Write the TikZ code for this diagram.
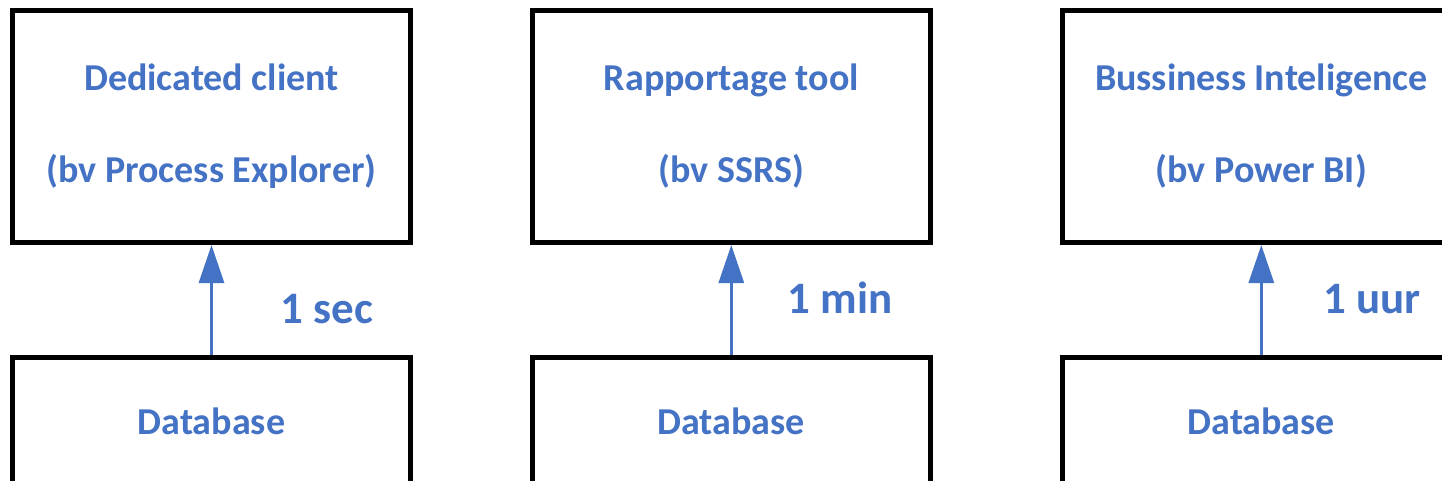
\documentclass[tikz,border=0pt]{standalone}
\usepackage{fontspec}
\setmainfont{Carlito}
\usepackage{tikz}
\usetikzlibrary{positioning,arrows.meta}
\definecolor{ReportBlue}{HTML}{4472C4}
\def\BoxWidth{398pt}
\def\BoxHeight{232pt}
\def\DbHeight{127pt}
\def\BoxGap{110pt}
\tikzset{
	toolbox/.style={draw=black, line width=5pt, minimum width=\BoxWidth, minimum height=\BoxHeight, align=center, text=ReportBlue, font=\bfseries\fontsize{38}{46}\selectfont},
	dbbox/.style={toolbox, minimum height=\DbHeight},
	timelabel/.style={anchor=base west, text=ReportBlue, font=\bfseries\fontsize{45}{52}\selectfont},
	link/.style={draw=ReportBlue, line width=3pt, -{Triangle[length=38pt,width=25pt]}},
}

\begin{document}
\begin{tikzpicture}[x=1pt,y=-1pt]
			\useasboundingbox (0,0) rectangle (1442,481);
			\fill[white] (0,0) rectangle (1442,481);
			\clip (0,0) rectangle (1442,481);
			% tools on top
			\node[toolbox] (client) at (211.5,126.5) {Dedicated client\\[46pt](bv Process Explorer)};
			\node[toolbox] (report) at (731.3,126.5) {Rapportage tool\\[46pt](bv SSRS)};
			\node[toolbox] (bi) at (1261.3,126.5) {Bussiness Inteligence\\[46pt](bv Power BI)};
			% databases below
			\node[dbbox, below=\BoxGap of client] (dbclient) {Database};
			\node[dbbox, below=\BoxGap of report] (dbreport) {Database};
			\node[dbbox, below=\BoxGap of bi] (dbbi) {Database};
			% 
			\draw[link] (dbclient) -- (client);
			\draw[link] (dbreport) -- (report);
			\draw[link] (dbbi) -- (bi);
			% refresh times
			\node[timelabel] (tclient) at (277,323) {1 sec};
			\node[timelabel] (treport) at (784,313) {1 min};
			\node[timelabel] (tbi) at (1320,313) {1 uur};
		\end{tikzpicture}
\end{document}
